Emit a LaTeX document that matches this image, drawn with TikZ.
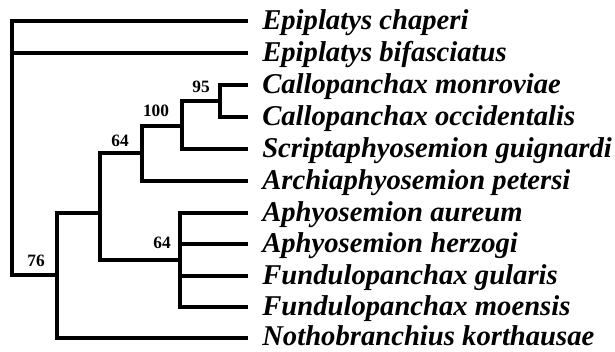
\documentclass[tikz,border=0pt]{standalone}
\usepackage{fontspec}
\setmainfont{Liberation Serif}
\begin{document}
\begin{tikzpicture}[x=0.75pt,y=-0.75pt,
  br/.style={line width=3.6pt,line cap=rect},
  taxon/.style={anchor=base west,inner sep=0pt,font=\fontsize{21.5}{21.5}\selectfont\bfseries\itshape},
  sup/.style={inner sep=0pt,font=\fontsize{13}{13}\selectfont\bfseries}]
\useasboundingbox (0,0) rectangle (615,351);
% leaf tips
\foreach \n/\y in {t1/21,t2/53,t3/85,t4/117,t5/149,t6/181,t7/213,t8/244,t9/276,t10/307,t11/338}
  \coordinate (\n) at (246,\y);
% internal nodes
\coordinate (root) at (12,21);
\coordinate (rootb) at (12,275);
\coordinate (n76) at (57,275);
\coordinate (n76t) at (57,213);
\coordinate (n76b) at (57,338);
\coordinate (na) at (100,213);
\coordinate (n64t) at (100,153);
\coordinate (n64b) at (100,260);
\coordinate (n64) at (142,153);
\coordinate (n64tt) at (142,126);
\coordinate (n64bb) at (142,181);
\coordinate (n100) at (182,126);
\coordinate (n100t) at (182,101);
\coordinate (n100b) at (182,149);
\coordinate (n95) at (220,101);
\coordinate (n95t) at (220,85);
\coordinate (n95b) at (220,117);
\coordinate (nf) at (180,260);
\coordinate (nft) at (180,213);
\coordinate (nfb) at (180,307);
% branches
\draw[br] (t1) -- (root) -- (rootb) -- (n76);
\draw[br] (root |- t2) -- (t2);
\draw[br] (n76t) -- (n76b) -- (t11);
\draw[br] (n76t) -- (na);
\draw[br] (n64t) -- (n64b) -- (nf);
\draw[br] (n64t) -- (n64);
\draw[br] (n64tt) -- (n64bb) -- (t6);
\draw[br] (n64tt) -- (n100);
\draw[br] (n100t) -- (n100b) -- (t5);
\draw[br] (n100t) -- (n95);
\draw[br] (t3) -- (n95t) -- (n95b) -- (t4);
\draw[br] (t7) -- (nft) -- (nfb) -- (t10);
\draw[br] (nf |- t8) -- (t8);
\draw[br] (nf |- t9) -- (t9);
% taxon labels
\node[taxon] (l1) at (262,29) {Epiplatys chaperi};
\node[taxon] (l2) at (262,61) {Epiplatys bifasciatus};
\node[taxon] (l3) at (262,93) {Callopanchax monroviae};
\node[taxon] (l4) at (262,125) {Callopanchax occidentalis};
\node[taxon] (l5) at (262,157) {Scriptaphyosemion guignardi};
\node[taxon] (l6) at (262,189) {Archiaphyosemion petersi};
\node[taxon] (l7) at (262,221) {Aphyosemion aureum};
\node[taxon] (l8) at (262,252) {Aphyosemion herzogi};
\node[taxon] (l9) at (262,284) {Fundulopanchax gularis};
\node[taxon] (l10) at (262,315) {Fundulopanchax moensis};
\node[taxon] (l11) at (262,345) {Nothobranchius korthausae};
% support values
\node[sup] (s95) at (201,87) {95};
\node[sup] (s100) at (156,111) {100};
\node[sup] (s64a) at (120,141) {64};
\node[sup] (s64b) at (162,243) {64};
\node[sup] (s76) at (36,261) {76};
\end{tikzpicture}
\end{document}
